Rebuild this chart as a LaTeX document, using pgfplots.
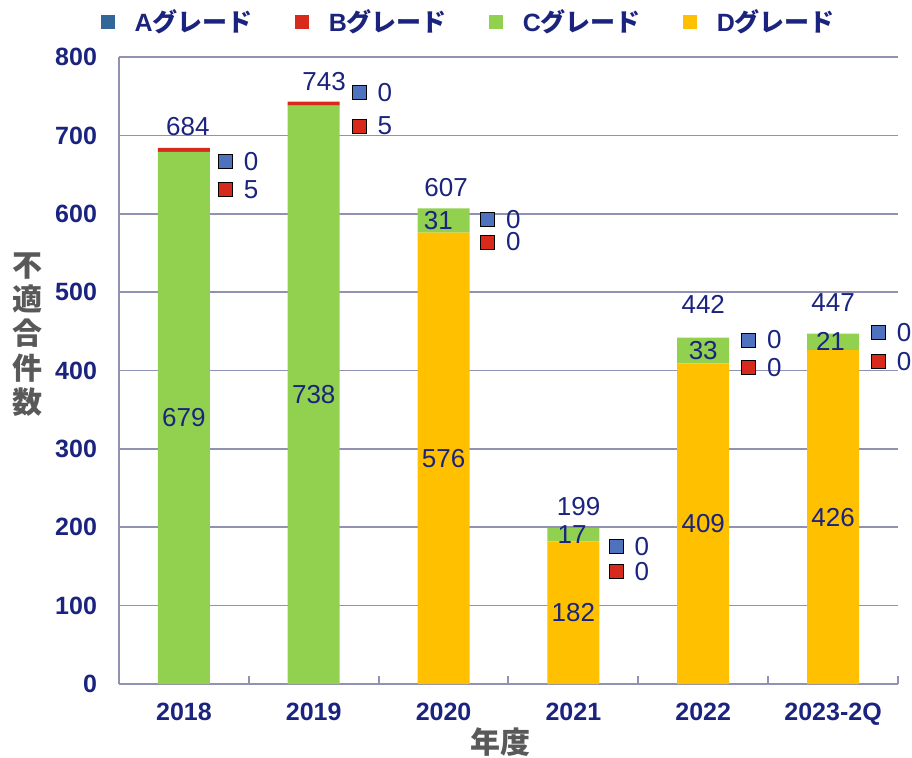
\documentclass[border=0pt]{standalone}
\usepackage{fontspec}
\setmainfont{Liberation Sans}
\newfontfamily\cjk{Noto Sans CJK JP}
\usepackage{pgfplots}
\pgfplotsset{compat=1.18}
\usepackage{pgfplotstable}

\definecolor{navy}{RGB}{26,35,126}
\definecolor{gridc}{RGB}{145,145,180}
\definecolor{cgreen}{RGB}{146,208,80}
\definecolor{cyellow}{RGB}{255,192,0}
\definecolor{cred}{RGB}{216,42,28}
\definecolor{cblueleg}{RGB}{51,102,153}
\definecolor{cblue}{RGB}{79,114,190}
\definecolor{tgray}{RGB}{89,89,89}

\pgfplotstableread{
x D C B A
0 0 679 5 0
1 0 738 5 0
2 576 31 0 0
3 182 17 0 0
4 409 33 0 0
5 426 21 0 0
}\bars

\pgfplotstableread{
x y lab
0.03 711.7 684
1.08 769 743
2.02 634 607
3.04 227 199
4.0 484.7 442
5.0 487 447
}\totals

\pgfplotstableread{
x y lab
0 339.5 679
1 369 738
2 288 576
3 91 182
4 204.5 409
5 213 426
1.96 591.5 31
2.99 190.5 17
4.0 425.5 33
4.98 436.5 21
}\mids

\pgfplotstableread{
x y lab
0.32 667 0
1.35 755 0
2.34 593 0
3.33 176 0
4.35 439 0
5.35 448 0
}\blues

\pgfplotstableread{
x y lab
0.32 631 5
1.35 712 5
2.34 564 0
3.33 144 0
4.35 404 0
5.35 411 0
}\reds

\begin{document}
\begin{tikzpicture}
\path[use as bounding box] (-59.5pt,-36.5pt) rectangle (396.5pt,342pt);
\begin{axis}[
  scale only axis, width=389.5pt, height=313.5pt,
  at={(0,0)}, anchor=south west,
  xmin=-0.5, xmax=5.5, ymin=0, ymax=800,
  ybar stacked, bar width=26pt,
  axis x line*=bottom, axis y line*=left,
  axis line style={gridc, line width=1pt},
  ymajorgrids, grid style={gridc, line width=0.8pt},
  ytick={0,100,...,800},
  xtick={0,...,5}, xticklabels={2018,2019,2020,2021,2022,2023-2Q},
  minor xtick={-0.5,0.5,...,5.5},
  major tick length=0pt, minor tick length=4pt,
  tick style={gridc, line width=1pt},
  tick align=inside,
  /pgf/number format/assume math mode=true,
  ticklabel style={font=\bfseries\fontsize{12.5}{14}\selectfont, text=navy},
  xticklabel style={yshift=-6pt},
  yticklabel style={xshift=-7.5pt},
  xlabel={\cjk\bfseries 年度},
  xlabel style={at={(rel axis cs:0.49,0)}, anchor=center, yshift=-29pt, font=\fontsize{15}{16}\selectfont, text=tgray},
  ylabel={\cjk\bfseries\shortstack{不\\適\\合\\件\\数}},
  ylabel style={at={(rel axis cs:-0.117,0.557)}, rotate=-90, anchor=center, font=\fontsize{15}{15.5}\selectfont, text=tgray},
  legend columns=4, reverse legend,
  legend style={at={(rel axis cs:-0.024,1.056)}, anchor=west, draw=none, fill=none, inner sep=0pt,
    font=\bfseries\fontsize{12.5}{14}\selectfont, text=navy,
    /tikz/every even column/.append style={column sep=19pt}},
  clip=false,
]
\addplot[fill=cyellow, draw=none, legend image code/.code={\fill[cyellow] (0pt,-3.5pt) rectangle (7pt,3.5pt); \path (15pt,0pt);}] table[x=x, y=D] {\bars};
\addlegendentry{D{\cjk グレード}}
\addplot[fill=cgreen, draw=none, legend image code/.code={\fill[cgreen] (0pt,-3.5pt) rectangle (7pt,3.5pt); \path (15pt,0pt);}] table[x=x, y=C] {\bars};
\addlegendentry{C{\cjk グレード}}
\addplot[fill=cred, draw=none, legend image code/.code={\fill[cred] (0pt,-3.5pt) rectangle (7pt,3.5pt); \path (15pt,0pt);}] table[x=x, y=B] {\bars};
\addlegendentry{B{\cjk グレード}}
\addplot[fill=cblueleg, draw=none, legend image code/.code={\fill[cblueleg] (0pt,-3.5pt) rectangle (7pt,3.5pt); \path (15pt,0pt);}] table[x=x, y=A] {\bars};
\addlegendentry{A{\cjk グレード}}
\end{axis}
\begin{axis}[
  scale only axis, width=389.5pt, height=313.5pt,
  at={(0,0)}, anchor=south west,
  xmin=-0.5, xmax=5.5, ymin=0, ymax=800,
  hide axis, clip=false,
  point meta=explicit symbolic,
  nodes near coords,
  every node near coord/.append style={anchor=center, font=\fontsize{13}{15}\selectfont, text=navy},
]
\addplot[only marks, mark=*, mark size=0pt, mark options={draw=none, fill=none}] table[x=x, y=y, meta=lab] {\totals};
\addplot[only marks, mark=*, mark size=0pt, mark options={draw=none, fill=none}] table[x=x, y=y, meta=lab] {\mids};
\addplot[only marks, mark=square*, mark size=3.5pt, mark options={draw=none, fill=cblue},
  every node near coord/.append style={anchor=west, xshift=8pt, inner sep=1pt}] table[x=x, y=y, meta=lab] {\blues};
\addplot[only marks, mark=square*, mark size=3.5pt, mark options={draw=none, fill=cred},
  every node near coord/.append style={anchor=west, xshift=8pt, inner sep=1pt}] table[x=x, y=y, meta=lab] {\reds};
\end{axis}
\end{tikzpicture}
\end{document}
